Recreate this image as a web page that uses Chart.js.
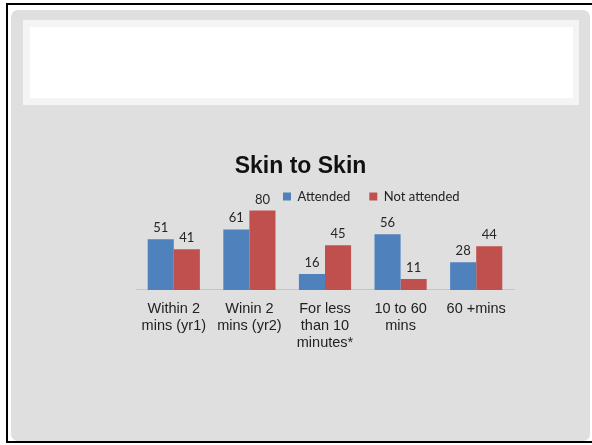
<!DOCTYPE html>
<html>
<head>
<meta charset="utf-8">
<script src="https://cdn.jsdelivr.net/npm/chart.js@4/dist/chart.umd.min.js"></script>
<style>
html,body{margin:0;padding:0;background:#fff;width:592px;height:445px;overflow:hidden;}
#frame{position:absolute;left:6px;top:3px;width:600px;height:436px;border:2px solid #000;border-right:none;}
#slide{position:absolute;left:11px;top:10px;width:579px;height:431px;background:#dfdfdf;border-radius:7px;}
#band{position:absolute;left:23px;top:20px;width:556px;height:85px;background:#f4f4f4;}
#inner{position:absolute;left:30px;top:27px;width:543px;height:71px;background:#fff;}
#wrap{position:absolute;left:0;top:0;width:592px;height:445px;}
</style>
</head>
<body>
<div id="frame"></div>
<div id="slide"></div>
<div id="band"></div>
<div id="inner"></div>
<div id="wrap"><canvas id="c"></canvas></div>
<script>
const categories = [["Within 2","mins (yr1)"],["Winin 2","mins (yr2)"],["For less","than 10","minutes*"],["10 to 60","mins"],["60 +mins"]];
const seriesNames = ["Attended","Not attended"];
const attended = [51,61,16,56,28];
const notAttended = [41,80,45,11,44];
const chartTitle = "Skin to Skin";

const valueLabels = {
  id: 'valueLabels',
  afterDatasetsDraw(chart) {
    const ctx = chart.ctx;
    ctx.save();
    ctx.font = '13px Lato, "Open Sans", sans-serif';
    ctx.fillStyle = '#262626';
    ctx.textAlign = 'center';
    ctx.textBaseline = 'alphabetic';
    chart.data.datasets.forEach((ds, i) => {
      chart.getDatasetMeta(i).data.forEach((bar, j) => {
        ctx.fillText(String(ds.data[j]), bar.x, bar.y - 7);
      });
    });
    ctx.restore();
  }
};

const legendPlace = {
  id: 'legendPlace',
  afterLayout(chart) {
    const lg = chart.legend;
    if (!lg) return;
    const w = lg.width, h = lg.height;
    lg.left = 264; lg.right = 264 + w;
    lg.top = 171; lg.bottom = 171 + h;
  }
};

new Chart(document.getElementById('c'), {
  type: 'bar',
  data: {
    labels: categories,
    datasets: [
      { label: seriesNames[0], data: attended, backgroundColor: '#4f81bd', categoryPercentage: 0.69, barPercentage: 1.0 },
      { label: seriesNames[1], data: notAttended, backgroundColor: '#c0504d', categoryPercentage: 0.69, barPercentage: 1.0 }
    ]
  },
  options: {
    responsive: true,
    maintainAspectRatio: false,
    devicePixelRatio: 1,
    animation: false,
    events: [],
    layout: { padding: { left: 87, right: 78, top: 153, bottom: 41 } },
    plugins: {
      tooltip: { enabled: false },
      title: {
        display: true, text: chartTitle, color: '#111',
        font: { family: '"Liberation Sans", Arial, sans-serif', size: 23, weight: 'bold', lineHeight: 1.2 },
        padding: { top: 0, bottom: 20 }
      },
      legend: {
        display: true, position: 'bottom', align: 'start',
        labels: {
          boxWidth: 8, boxHeight: 8, padding: 19, color: '#222',
          font: { family: 'Lato, "Open Sans", sans-serif', size: 13 }
        }
      }
    },
    scales: {
      x: {
        grid: { display: false, drawTicks: false },
        border: { display: true, color: '#c4c4c4', width: 1 },
        ticks: {
          padding: 11, color: '#222', maxRotation: 0, autoSkip: false,
          font: { family: '"Liberation Sans", Arial, sans-serif', size: 14.5, lineHeight: 1.15 }
        }
      },
      y: {
        display: true, min: 0, max: 90,
        ticks: { display: false },
        grid: { display: false, drawTicks: false },
        border: { display: false },
        afterFit(s) { s.width = 49; }
      }
    }
  },
  plugins: [valueLabels, legendPlace]
});
</script>
</body>
</html>
